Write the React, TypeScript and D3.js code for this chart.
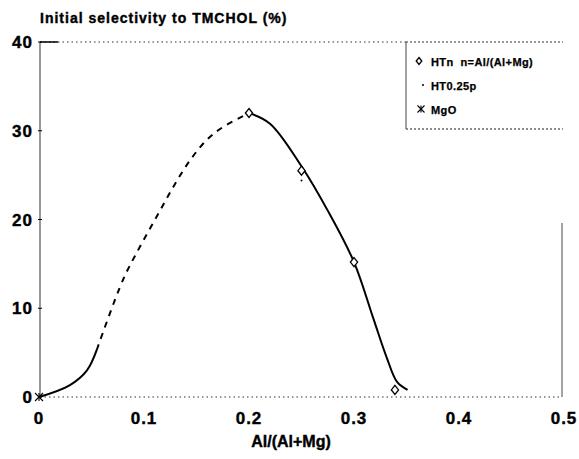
import React from "react";
import * as d3 from "d3";

const xTicks = [0, 0.1, 0.2, 0.3, 0.4, 0.5];
const yTicks = [0, 10, 20, 30, 40];

// HTn samples (diamonds)
const htnX = [0.2, 0.25, 0.3, 0.339];
const htnY = [32, 25.5, 15.2, 0.8];
// HT0.25p (small dot)
const htpX = [0.25];
const htpY = [24.4];
// MgO (asterisk)
const mgoX = [0];
const mgoY = [0];

// trend curve
const solidLeftX = [0, 0.0295, 0.0457, 0.055];
const solidLeftY = [0, 1.35, 3.0, 5.3];
const dashedX = [0.055, 0.08, 0.096, 0.112, 0.128, 0.144, 0.16, 0.175, 0.2];
const dashedY = [5.3, 13.2, 16.9, 20.3, 23.7, 26.7, 29.0, 30.4, 32];
const solidRightX = [0.2, 0.22, 0.25, 0.275, 0.3, 0.318, 0.331, 0.341, 0.351];
const solidRightY = [32, 30.8, 26, 21, 15.2, 9, 4.5, 1.7, 0.8];

const legendLabels = ["HTn  n=Al/(Al+Mg)", "HT0.25p", "MgO"];

const FONT = "'Liberation Sans', Arial, Helvetica, sans-serif";

export default function App() {
  const W = 579, H = 459;
  const x = d3.scaleLinear().domain([0, 0.5]).range([39, 564]);
  const y = d3.scaleLinear().domain([0, 40]).range([397, 42]);
  const line = d3.line<[number, number]>().x(d => x(d[0])).y(d => y(d[1])).curve(d3.curveCatmullRom.alpha(0.5));
  const zip = (a: number[], b: number[]) => a.map((v, i) => [v, b[i]] as [number, number]);

  const diamond = (cx: number, cy: number, r: number, key: string) => (
    <path key={key} d={`M${cx},${cy - r}L${cx + r * 0.8},${cy}L${cx},${cy + r}L${cx - r * 0.8},${cy}Z`} fill="white" stroke="black" strokeWidth={1.3} />
  );
  const star = (cx: number, cy: number, r: number, key: string) => (
    <g key={key} stroke="black" strokeWidth={1.1}>
      <line x1={cx - r} y1={cy - r} x2={cx + r} y2={cy + r} />
      <line x1={cx - r} y1={cy + r} x2={cx + r} y2={cy - r} />
      <line x1={cx} y1={cy - r} x2={cx} y2={cy + r} />
    </g>
  );
  const heavy = { fontWeight: "bold" as const, stroke: "black", strokeWidth: 0.4 };

  return (
    <svg width={W} height={H} style={{ position: "absolute", left: 0, top: 0, background: "white" }} fontFamily={FONT}>
      <rect width={W} height={H} fill="white" />
      {/* title */}
      <text x={40} y={23} fontSize={14} letterSpacing={1} {...heavy}>Initial selectivity to TMCHOL (%)</text>
      {/* frame */}
      <line x1={40} y1={42} x2={406} y2={42} stroke="#333" strokeWidth={1} strokeDasharray="1.5,3" />
      <line x1={40} y1={42} x2={40} y2={397} stroke="#555" strokeWidth={1.2} />
      <line x1={40} y1={397} x2={562} y2={397} stroke="#333" strokeWidth={1} strokeDasharray="1.5,3" />
      <line x1={562} y1={223} x2={562} y2={397} stroke="#666" strokeWidth={1.2} />
      <line x1={40} y1={42} x2={58} y2={42} stroke="black" strokeWidth={1.5} />
      {/* y ticks */}
      {yTicks.map(t => (
        <g key={"y" + t}>
          <line x1={38} x2={42} y1={y(t)} y2={y(t)} stroke="black" />
          <text x={33} y={y(t)} dy="0.36em" textAnchor="end" fontSize={17} letterSpacing={1} {...heavy}>{t}</text>
        </g>
      ))}
      {/* x ticks */}
      {xTicks.map(t => (
        <text key={"x" + t} x={x(t)} y={424} textAnchor="middle" fontSize={17} letterSpacing={1} {...heavy}>{t}</text>
      ))}
      <text x={291} y={447} textAnchor="middle" fontSize={16} {...heavy}>Al/(Al+Mg)</text>
      {/* curves */}
      <path d={line(zip(solidLeftX, solidLeftY)) || ""} fill="none" stroke="black" strokeWidth={2} />
      <path d={line(zip(dashedX, dashedY)) || ""} fill="none" stroke="black" strokeWidth={2} strokeDasharray="6,6" />
      <path d={line(zip(solidRightX, solidRightY)) || ""} fill="none" stroke="black" strokeWidth={2} />
      {/* markers */}
      {htnX.map((v, i) => diamond(x(v), y(htnY[i]), 4.5, "d" + i))}
      {htpX.map((v, i) => <circle key={"p" + i} cx={x(v)} cy={y(htpY[i])} r={1} fill="black" />)}
      {mgoX.map((v, i) => star(x(v), y(mgoY[i]), 4, "m" + i))}
      {/* legend */}
      <g>
        <line x1={406} y1={42} x2={563} y2={42} stroke="#333" strokeDasharray="2,2" />
        <line x1={406} y1={129} x2={563} y2={129} stroke="#222" strokeWidth={1.2} strokeDasharray="2,2" />
        <line x1={406} y1={42} x2={406} y2={129} stroke="#444" />
        {diamond(419, 61, 3.5, "ld")}
        <circle cx={423} cy={85} r={1} fill="black" />
        {star(421, 109, 3.5, "ls")}
        <text x={431} y={66} fontSize={11} letterSpacing={0.4} {...heavy} strokeWidth={0.25} style={{ whiteSpace: "pre" }}>{legendLabels[0]}</text>
        <text x={431} y={90} fontSize={11} letterSpacing={0.4} {...heavy} strokeWidth={0.25}>{legendLabels[1]}</text>
        <text x={431} y={114} fontSize={11} letterSpacing={0.4} {...heavy} strokeWidth={0.25}>{legendLabels[2]}</text>
      </g>
    </svg>
  );
}
